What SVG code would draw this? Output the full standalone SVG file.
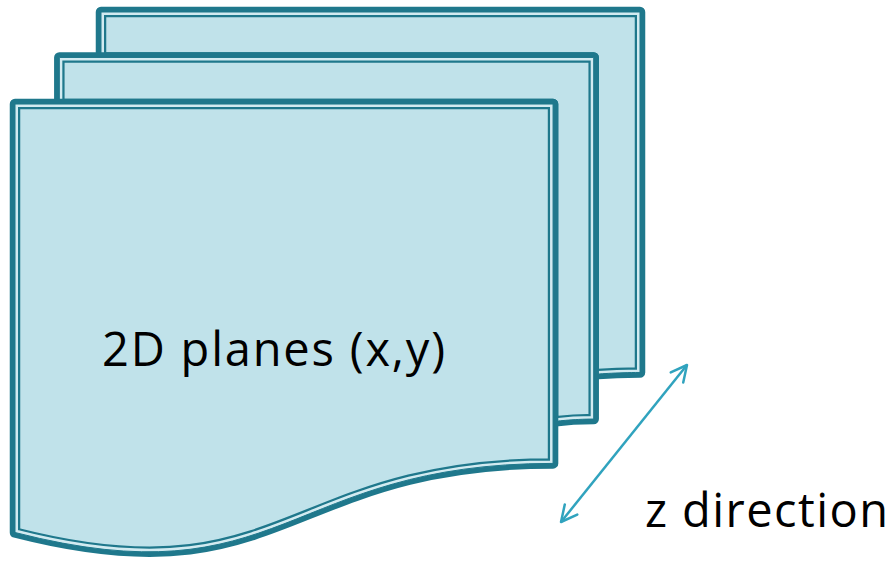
<svg xmlns="http://www.w3.org/2000/svg" xmlns:xlink="http://www.w3.org/1999/xlink" width="893" height="561" viewBox="0 0 893 561">
<style>
.page{fill:#C0E2EA;stroke:#1F788C;stroke-width:10.5;stroke-linejoin:round}
.light{fill:none;stroke:#D2EBF1;stroke-width:6}
.thin{fill:none;stroke:#1F788C;stroke-width:1}
.lbl{font-family:"Open Sans","Noto Sans",sans-serif;font-size:47px;fill:#000}
.conn{stroke:#30A3BE;stroke-width:2.5;fill:none}
</style>
<defs>
<path id="pBack" d="M101,57.46 L101,12 L640,12 L640,372.46 C616.85,372.46 593.7,374.34 593.7,374.34 L593.7,57.46 Z"/>
<path id="pMid" d="M59.33,104.04 L59.33,57.46 L593.7,57.46 L593.7,419.05 C573.4,419.05 553.05,421.55 553.05,421.55 L553.05,104.04 Z"/>
<path id="pFront" d="M15,532.5 C284,601.6 284,463.4 553.05,463.4 L553.05,104.04 L15,104.04 Z"/>
<clipPath id="cBack"><use xlink:href="#pBack"/></clipPath>
<clipPath id="cMid"><use xlink:href="#pMid"/></clipPath>
<clipPath id="cFront"><use xlink:href="#pFront"/></clipPath>
<marker id="ah" viewBox="0 0 20 20" refX="18" refY="10" markerWidth="20" markerHeight="20" markerUnits="userSpaceOnUse" orient="auto-start-reverse">
<path d="M2,2 L18,10 L2,18" fill="none" stroke="#30A3BE" stroke-width="2.5" stroke-linecap="round" stroke-linejoin="round"/>
</marker>
</defs>
<g id="page-back">
<use xlink:href="#pBack" class="page"/>
<use xlink:href="#pBack" class="light" clip-path="url(#cBack)"/>
<use xlink:href="#pBack" class="thin"/>
</g>
<g id="page-middle">
<use xlink:href="#pMid" class="page"/>
<use xlink:href="#pMid" class="light" clip-path="url(#cMid)"/>
<use xlink:href="#pMid" class="thin"/>
</g>
<g id="page-front">
<use xlink:href="#pFront" class="page"/>
<use xlink:href="#pFront" class="light" clip-path="url(#cFront)"/>
<use xlink:href="#pFront" class="thin"/>
<text class="lbl" x="102" y="366" textLength="343" lengthAdjust="spacing">2D planes (x,y)</text>
</g>
<g id="connectors">
<line class="conn" x1="561" y1="522" x2="687" y2="365" marker-start="url(#ah)" marker-end="url(#ah)"/>
</g>
<g id="label-z">
<text class="lbl" x="645" y="527" textLength="243" lengthAdjust="spacing">z direction</text>
</g>
</svg>
